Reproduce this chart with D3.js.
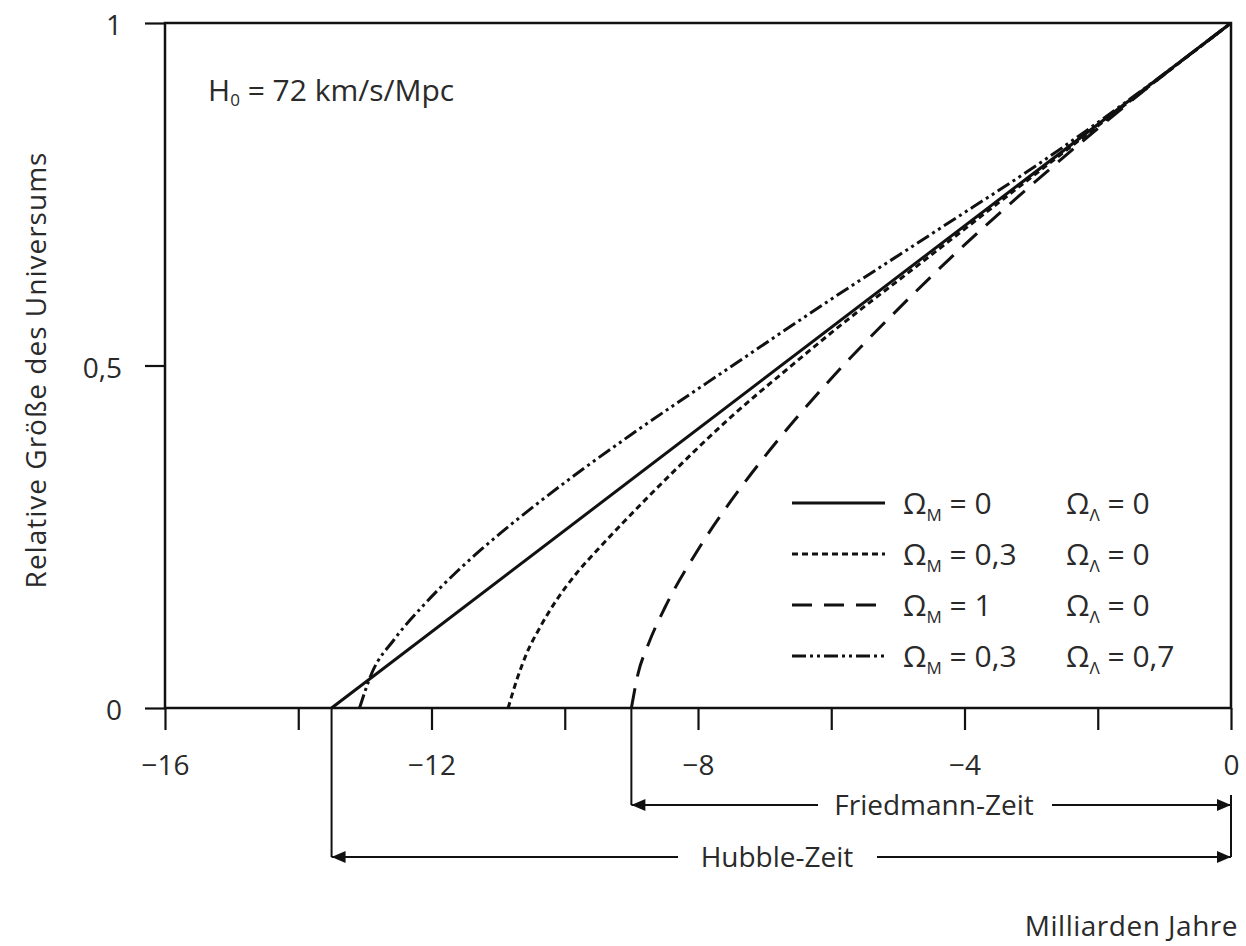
<!DOCTYPE html>
<html>
<head>
<meta charset="utf-8">
<script src="https://cdn.jsdelivr.net/npm/d3@7"></script>
<style>
  body { margin: 0; background: #fff; }
  svg text { font-family: "Open Sans", "DejaVu Sans", sans-serif; fill: #2a2a2a; }
</style>
</head>
<body>
<div id="chart"></div>
<script>
const width = 1246;
const height = 946;

// x: Zeit in Milliarden Jahren (negativ = Vergangenheit), y: relative Größe
const xTicksMajor = [-16, -12, -8, -4, 0];
const xTicksMinor = [-14, -10, -6, -2];
const yTicks = [0, 0.5, 1];
const yTickLabels = ["0", "0,5", "1"];

const hubbleTime = -13.5;
const friedmannTime = -9.0;

// Omega_M = 0, Omega_L = 0
const emptyT = [-13.5, 0];
const emptyA = [0, 1];

// Omega_M = 0.3, Omega_L = 0
const openT = [-10.85, -10.72, -10.57, -10.37, -10.12, -9.82, -9.47, -9.13, -8.77, -8.42, -7.56, -6.57, -6.06, -5.57, -4.97, -3.47, -1.97, 0];
const openA = [0, 0.041, 0.080, 0.118, 0.158, 0.197, 0.235, 0.270, 0.306, 0.340, 0.420, 0.502, 0.543, 0.581, 0.626, 0.739, 0.852, 1];

// Omega_M = 1, Omega_L = 0
const flatT = [-9.0, -8.9, -8.75, -8.5, -8.0, -7.5, -7.0, -6.0, -5.0, -4.0, -3.0, -2.0, -1.0, 0];
const flatA = [0, 0.050, 0.092, 0.146, 0.231, 0.303, 0.367, 0.481, 0.582, 0.676, 0.763, 0.846, 0.925, 1];

// Omega_M = 0.3, Omega_L = 0.7
const lambdaT = [-13.08, -12.90, -12.56, -12.12, -11.61, -11.03, -10.39, -9.71, -8.99, -7.48, -5.95, -4.37, -2.80, -1.36, 0];
const lambdaA = [0, 0.05, 0.10, 0.15, 0.20, 0.25, 0.30, 0.35, 0.40, 0.50, 0.60, 0.70, 0.80, 0.90, 1];

const legendM = ["0", "0,3", "1", "0,3"];
const legendL = ["0", "0", "0", "0,7"];
const dashes = [null, "6,4", "20,12", "14,4,3,4,3,4"];

const series = [
  [emptyT, emptyA],
  [openT, openA],
  [flatT, flatA],
  [lambdaT, lambdaA]
].map(([t, a], i) => ({
  points: t.map((v, j) => [v, a[j]]),
  dash: dashes[i],
  m: legendM[i],
  l: legendL[i]
}));

const x = d3.scaleLinear().domain([-16, 0]).range([165, 1231]);
const y = d3.scaleLinear().domain([0, 1]).range([708, 23]);

const svg = d3.select("#chart")
  .append("svg")
  .attr("width", width)
  .attr("height", height);

// axes
const xAxis = svg.append("g")
  .attr("transform", `translate(0,${y(0)})`)
  .call(d3.axisBottom(x)
    .tickValues(xTicksMajor.concat(xTicksMinor))
    .tickSize(22)
    .tickPadding(25)
    .tickFormat(d => xTicksMajor.includes(d) ? d3.format("d")(d).replace("-", "\u2212") : ""));

const yAxis = svg.append("g")
  .attr("transform", `translate(${x(-16)},0)`)
  .call(d3.axisLeft(y)
    .tickValues(yTicks)
    .tickSize(20)
    .tickPadding(23)
    .tickFormat((d, i) => yTickLabels[i]));

[xAxis, yAxis].forEach(ax => {
  ax.select(".domain").remove();
  ax.selectAll("line").attr("stroke", "#111").attr("stroke-width", 2.2);
  ax.selectAll("text").style("font-size", "28px").attr("fill", "#2a2a2a");
});
yAxis.selectAll("text").attr("dy", "0.42em");

// frame
svg.append("rect")
  .attr("x", x(-16))
  .attr("y", y(1))
  .attr("width", x(0) - x(-16))
  .attr("height", y(0) - y(1))
  .attr("fill", "none")
  .attr("stroke", "#111")
  .attr("stroke-width", 2.5);

// curves
const line = d3.line()
  .x(d => x(d[0]))
  .y(d => y(d[1]))
  .curve(d3.curveMonotoneX);

svg.append("g")
  .selectAll("path")
  .data(series)
  .enter()
  .append("path")
  .attr("d", d => line(d.points))
  .attr("fill", "none")
  .attr("stroke", "#111")
  .attr("stroke-width", 3)
  .attr("stroke-dasharray", d => d.dash);

// legend
const legend = svg.append("g")
  .selectAll("g")
  .data(series)
  .enter()
  .append("g")
  .attr("transform", (d, i) => `translate(0,${503 + i * 51})`);

legend.append("line")
  .attr("x1", 792)
  .attr("x2", 885)
  .attr("stroke", "#111")
  .attr("stroke-width", 3)
  .attr("stroke-dasharray", d => d.dash);

function omega(sel, x0, sub, val) {
  const t = sel.append("text")
    .attr("x", x0)
    .attr("dy", "0.36em")
    .style("font-size", "30px");
  t.append("tspan").text("\u03A9");
  t.append("tspan").text(sub).style("font-size", "17px").attr("dy", 7);
  t.append("tspan").text(" = " + val).attr("dy", -7);
}

legend.each(function(d) {
  const g = d3.select(this);
  omega(g, 903, "M", d.m);
  omega(g, 1066, "\u039B", d.l);
});

// H0 label
const h0 = svg.append("text")
  .attr("x", 208)
  .attr("y", 101)
  .style("font-size", "30px");
h0.append("tspan").text("H");
h0.append("tspan").text("0").style("font-size", "17px").attr("dy", 5);
h0.append("tspan").text(" = 72 km/s/Mpc").attr("dy", -5);

// axis titles
svg.append("text")
  .attr("transform", "translate(46,370) rotate(-90)")
  .attr("text-anchor", "middle")
  .style("font-size", "28px")
  .style("letter-spacing", "1px")
  .text("Relative Größe des Universums");

svg.append("text")
  .attr("x", 1238)
  .attr("y", 936)
  .attr("text-anchor", "end")
  .style("font-size", "28px")
  .style("letter-spacing", "0.5px")
  .text("Milliarden Jahre");

// Zeit-Pfeile
function arrowHead(px, py, dir) {
  svg.append("path")
    .attr("d", `M${px},${py}L${px - dir * 14},${py - 6}L${px - dir * 14},${py + 6}Z`)
    .attr("fill", "#111");
}

function timeArrow(t0, py, label, textX, gapL, gapR) {
  const xl = x(t0), xr = x(0);
  svg.append("line")
    .attr("x1", xl).attr("x2", xl)
    .attr("y1", y(0)).attr("y2", py)
    .attr("stroke", "#111").attr("stroke-width", 2);
  svg.append("line")
    .attr("x1", xl).attr("x2", gapL)
    .attr("y1", py).attr("y2", py)
    .attr("stroke", "#111").attr("stroke-width", 2.2);
  svg.append("line")
    .attr("x1", gapR).attr("x2", xr)
    .attr("y1", py).attr("y2", py)
    .attr("stroke", "#111").attr("stroke-width", 2.2);
  arrowHead(xl, py, -1);
  arrowHead(xr, py, 1);
  svg.append("text")
    .attr("x", textX)
    .attr("y", py)
    .attr("dy", "0.36em")
    .attr("text-anchor", "middle")
    .style("font-size", "28px")
    .text(label);
}

timeArrow(friedmannTime, 805, "Friedmann-Zeit", 934, 818, 1052);
timeArrow(hubbleTime, 857, "Hubble-Zeit", 777, 678, 877);

svg.append("line")
  .attr("x1", x(0)).attr("x2", x(0))
  .attr("y1", 795).attr("y2", 857)
  .attr("stroke", "#111").attr("stroke-width", 2);
</script>
</body>
</html>
